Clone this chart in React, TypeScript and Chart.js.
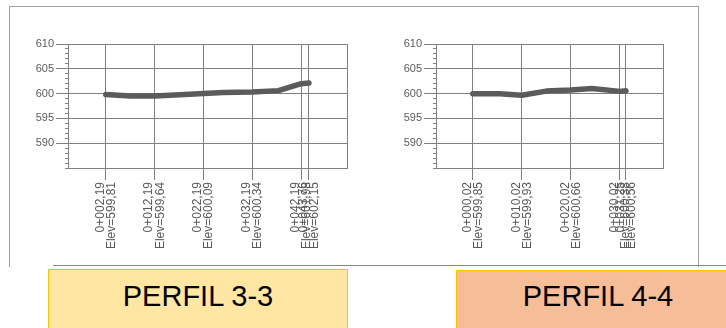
import React, { useEffect, useRef } from 'react';
import { Chart, registerables } from 'chart.js';
Chart.register(...registerables);

// ---------- PERFIL 3-3 ----------
const P3_STATIONS = [2.19, 7.2, 12.19, 19.4, 22.19, 26.2, 32.19, 37.5, 42.19, 43.76];
const P3_ELEV = [599.81, 599.52, 599.5, 599.86, 600.02, 600.2, 600.34, 600.6, 602.0, 602.15];
const P3_TICK_STATIONS = [2.19, 12.19, 22.19, 32.19, 42.19, 43.76];
const P3_TICK_CHAINAGE = ['0+002,19', '0+012,19', '0+022,19', '0+032,19', '0+042,19', '0+043,76'];
const P3_TICK_ELEV = ['Elev=599,81', 'Elev=599,64', 'Elev=600,09', 'Elev=600,34', 'Elev=601,98', 'Elev=602,15'];
const P3_X_RANGE = [-5.54, 51.54];

// ---------- PERFIL 4-4 ----------
const P4_STATIONS = [0.02, 5.5, 10.02, 15.0, 20.02, 24.3, 30.02, 31.25];
const P4_ELEV = [599.95, 599.98, 599.68, 600.5, 600.72, 601.05, 600.45, 600.56];
const P4_TICK_STATIONS = [0.02, 10.02, 20.02, 30.02, 31.25];
const P4_TICK_CHAINAGE = ['0+000,02', '0+010,02', '0+020,02', '0+030,02', '0+031,25'];
const P4_TICK_ELEV = ['Elev=599,85', 'Elev=599,93', 'Elev=600,66', 'Elev=600,38', 'Elev=600,56'];
const P4_X_RANGE = [-7.47, 38.8];

// ---------- shared ----------
const Y_RANGE = [585, 610];
const Y_STEP = 1;
const Y_MAJOR_STEP = 5;
const TITLES = ['PERFIL 3-3', 'PERFIL 4-4'];

const GRID = '#808080';
const TEXT = '#5a5a5a';
const LINE = '#5b5b5b';
const FONT = "'Liberation Sans', Arial, sans-serif";

type ProfileProps = {
  left: number;
  width: number;
  height: number;
  yAxisWidth: number;
  padRight: number;
  stations: number[];
  elev: number[];
  tickStations: number[];
  tickChainage: string[];
  tickElev: string[];
  xRange: number[];
};

function ProfileChart(p: ProfileProps) {
  const ref = useRef<HTMLCanvasElement>(null);
  useEffect(() => {
    const canvas = ref.current;
    if (!canvas) return;
    const isMajor = (v: number) => v % Y_MAJOR_STEP === 0 && v > Y_RANGE[0];
    const chart = new Chart(canvas, {
      type: 'line',
      data: {
        datasets: [
          {
            data: p.stations.map((s, i) => ({ x: s, y: p.elev[i] })),
            borderColor: LINE,
            borderWidth: 5.5,
            borderCapStyle: 'round',
            borderJoinStyle: 'round',
            pointRadius: 0,
            tension: 0,
            fill: false,
          },
        ],
      },
      options: {
        responsive: false,
        animation: false,
        events: [],
        layout: { padding: { top: 44, right: p.padRight, left: 0, bottom: 0 } },
        plugins: { legend: { display: false }, tooltip: { enabled: false }, title: { display: false } },
        scales: {
          x: {
            type: 'linear',
            position: 'bottom',
            min: p.xRange[0],
            max: p.xRange[1],
            bounds: 'data',
            afterFit: (s: any) => {
              s.height = p.height - 168;
            },
            afterBuildTicks: (s: any) => {
              s.ticks = p.tickStations.map((v) => ({ value: v }));
            },
            ticks: {
              autoSkip: false,
              minRotation: 90,
              maxRotation: 90,
              padding: 2,
              labelOffset: -5.5,
              color: TEXT,
              font: { family: FONT, size: 12, lineHeight: 0.92 },
              callback: (_v: any, i: number) => [p.tickChainage[i], p.tickElev[i]],
            },
            grid: { color: GRID, tickColor: GRID, tickLength: 12, lineWidth: 1 },
            border: { display: true, color: GRID },
          },
          y: {
            type: 'linear',
            position: 'left',
            min: Y_RANGE[0],
            max: Y_RANGE[1],
            afterFit: (s: any) => {
              s.width = p.yAxisWidth;
            },
            ticks: {
              stepSize: Y_STEP,
              maxTicksLimit: 100,
              autoSkip: false,
              padding: 2,
              color: TEXT,
              font: { family: FONT, size: 11 },
              callback: (v: any) => (isMajor(Number(v)) ? String(v) : ''),
            },
            grid: {
              color: (c: any) => (c.tick && isMajor(c.tick.value) ? GRID : c.tick && c.tick.value === Y_RANGE[0] ? GRID : 'rgba(0,0,0,0)'),
              tickColor: GRID,
              tickLength: 12,
              tickBorderDash: (c: any) => (c.tick && isMajor(c.tick.value) ? [] : [0, 9, 3, 50]),
            },
            border: { display: true, color: GRID },
          },
          yR: {
            type: 'linear',
            position: 'right',
            min: Y_RANGE[0],
            max: Y_RANGE[1],
            afterFit: (s: any) => {
              s.width = 0;
            },
            ticks: { display: false },
            grid: { drawOnChartArea: false, drawTicks: false },
            border: { display: true, color: GRID },
          },
        },
      },
    } as any);
    return () => chart.destroy();
  }, []);
  return (
    <canvas
      ref={ref}
      width={p.width}
      height={p.height}
      style={{ position: 'absolute', left: p.left, top: 0, width: p.width, height: p.height }}
    />
  );
}

const line = (s: React.CSSProperties): React.CSSProperties => ({ position: 'absolute', ...s });

export default function App() {
  return (
    <div
      style={{
        position: 'absolute',
        left: 0,
        top: 0,
        width: 726,
        height: 328,
        overflow: 'hidden',
        background: '#ffffff',
        fontFamily: FONT,
      }}
    >
      {/* drawing frame */}
      <div style={line({ left: 9, top: 6, width: 690, height: 1, background: '#a0a0a0' })} />
      <div style={line({ left: 9, top: 6, width: 1, height: 261, background: '#a0a0a0' })} />
      <div style={line({ left: 698, top: 6, width: 1, height: 261, background: '#a0a0a0' })} />
      <div style={line({ left: 53, top: 265, width: 673, height: 1, background: '#888888' })} />

      <ProfileChart
        left={0}
        width={363}
        height={265}
        yAxisWidth={68}
        padRight={16}
        stations={P3_STATIONS}
        elev={P3_ELEV}
        tickStations={P3_TICK_STATIONS}
        tickChainage={P3_TICK_CHAINAGE}
        tickElev={P3_TICK_ELEV}
        xRange={P3_X_RANGE}
      />
      <ProfileChart
        left={363}
        width={363}
        height={265}
        yAxisWidth={73}
        padRight={63}
        stations={P4_STATIONS}
        elev={P4_ELEV}
        tickStations={P4_TICK_STATIONS}
        tickChainage={P4_TICK_CHAINAGE}
        tickElev={P4_TICK_ELEV}
        xRange={P4_X_RANGE}
      />

      {/* title boxes */}
      <div
        style={line({
          left: 48,
          top: 269,
          width: 298,
          height: 80,
          background: '#FFE7A3',
          border: '1px solid #FFC000',
        })}
      />
      <div
        style={line({
          left: 456,
          top: 270,
          width: 298,
          height: 80,
          background: '#F5BD98',
          border: '1px solid #FFC000',
        })}
      />
      <div
        style={line({
          left: 48,
          top: 282,
          width: 300,
          textAlign: 'center',
          fontSize: 29,
          lineHeight: '29px',
          color: '#000',
          whiteSpace: 'nowrap',
        })}
      >
        {TITLES[0]}
      </div>
      <div
        style={line({
          left: 456,
          top: 282,
          width: 284,
          textAlign: 'center',
          fontSize: 29,
          lineHeight: '29px',
          color: '#000',
          whiteSpace: 'nowrap',
        })}
      >
        {TITLES[1]}
      </div>
    </div>
  );
}
